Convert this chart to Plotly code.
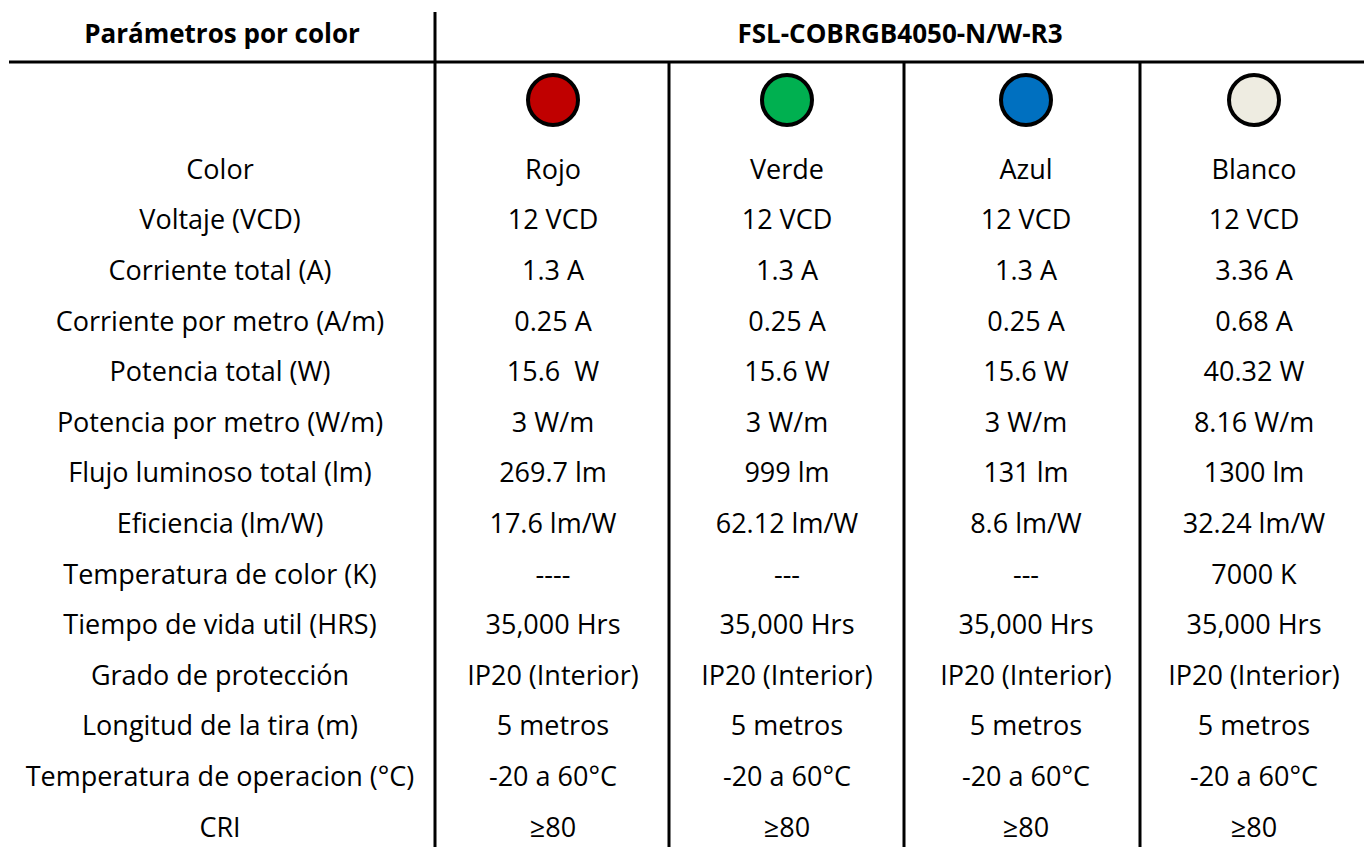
import plotly.graph_objects as go

# ---------------- data ----------------
header_left = "Parámetros por color"
header_right = "FSL-COBRGB4050-N/W-R3"

parameters = [
    "Color", "Voltaje (VCD)", "Corriente total (A)", "Corriente por metro (A/m)",
    "Potencia total (W)", "Potencia por metro (W/m)", "Flujo luminoso total (lm)",
    "Eficiencia (lm/W)", "Temperatura de color (K)", "Tiempo de vida util (HRS)",
    "Grado de protección", "Longitud de la tira (m)", "Temperatura de operacion (°C)", "CRI",
]
rojo = ["Rojo", "12 VCD", "1.3 A", "0.25 A", "15.6  W", "3 W/m", "269.7 lm", "17.6 lm/W",
        "----", "35,000 Hrs", "IP20 (Interior)", "5 metros", "-20 a 60°C", "≥80"]
verde = ["Verde", "12 VCD", "1.3 A", "0.25 A", "15.6 W", "3 W/m", "999 lm", "62.12 lm/W",
         "---", "35,000 Hrs", "IP20 (Interior)", "5 metros", "-20 a 60°C", "≥80"]
azul = ["Azul", "12 VCD", "1.3 A", "0.25 A", "15.6 W", "3 W/m", "131 lm", "8.6 lm/W",
        "---", "35,000 Hrs", "IP20 (Interior)", "5 metros", "-20 a 60°C", "≥80"]
blanco = ["Blanco", "12 VCD", "3.36 A", "0.68 A", "40.32 W", "8.16 W/m", "1300 lm", "32.24 lm/W",
          "7000 K", "35,000 Hrs", "IP20 (Interior)", "5 metros", "-20 a 60°C", "≥80"]
swatch_colors = ["#C00000", "#00B050", "#0070C0", "#EEECE1"]

# ---------------- layout constants ----------------
W, H = 1364, 847
FONT = "Open Sans"
FS = 27
label_x = 220
col_x = [553, 787, 1026, 1254]
row_y0, row_dy = 172, 50.6
header_y = 36
swatch_y = 100
hline_y = 62
sep_left_x = 435
sep_cols_x = [669, 904, 1140]

row_y = [row_y0 + row_dy * i for i in range(len(parameters))]

fig = go.Figure()

# parameter labels
fig.add_trace(go.Scatter(
    x=[label_x] * len(parameters), y=row_y, text=parameters, mode="text",
    textposition="middle center", textfont=dict(family=FONT, size=FS, color="black"),
    hoverinfo="skip", showlegend=False, cliponaxis=False,
))

# value columns
for cx, vals in zip(col_x, [rojo, verde, azul, blanco]):
    fig.add_trace(go.Scatter(
        x=[cx] * len(vals), y=row_y, text=vals, mode="text",
        textposition="middle center", textfont=dict(family=FONT, size=FS, color="black"),
        hoverinfo="skip", showlegend=False, cliponaxis=False,
    ))

# colour swatches
fig.add_trace(go.Scatter(
    x=col_x, y=[swatch_y] * len(col_x), mode="markers",
    marker=dict(size=50, color=swatch_colors, line=dict(color="black", width=4)),
    hoverinfo="skip", showlegend=False,
))

# headers
fig.add_trace(go.Scatter(
    x=[222, 900], y=[header_y, header_y],
    text=[f"<b>{header_left}</b>", f"<b>{header_right}</b>"], mode="text",
    textposition="middle center", textfont=dict(family=FONT, size=26, color="black"),
    hoverinfo="skip", showlegend=False,
))

# grid lines
line = dict(color="black", width=3)
fig.add_shape(type="line", x0=9, x1=W, y0=hline_y, y1=hline_y, line=line, xref="x", yref="y")
fig.add_shape(type="line", x0=sep_left_x, x1=sep_left_x, y0=12, y1=H, line=line, xref="x", yref="y")
for sx in sep_cols_x:
    fig.add_shape(type="line", x0=sx, x1=sx, y0=hline_y, y1=H, line=line, xref="x", yref="y")

fig.update_layout(
    width=W, height=H, margin=dict(l=0, r=0, t=0, b=0),
    paper_bgcolor="white", plot_bgcolor="white",
    xaxis=dict(range=[0, W], visible=False, fixedrange=True),
    yaxis=dict(range=[H, 0], visible=False, fixedrange=True),
)

fig.write_html(
    "out.html",
    config={"displayModeBar": False},
    post_script="document.body.style.margin='0';document.body.style.overflow='hidden';",
)
